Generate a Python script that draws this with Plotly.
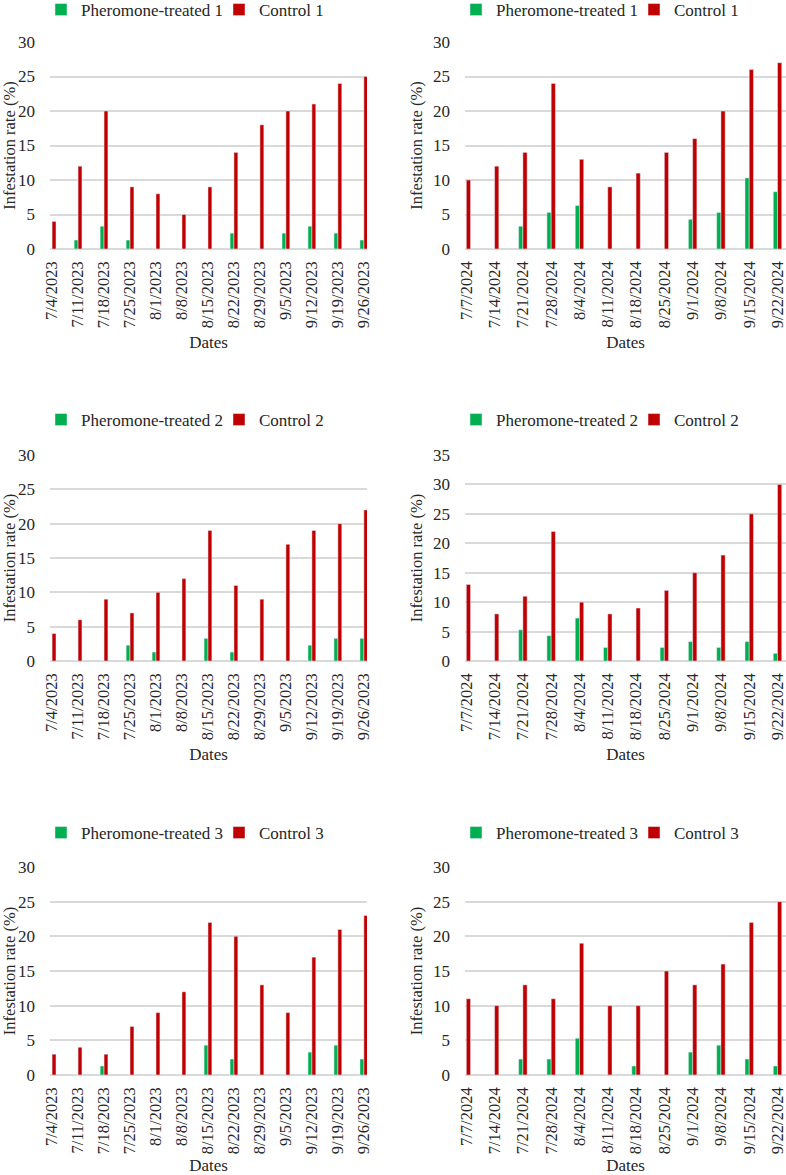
import plotly.graph_objects as go
from plotly.subplots import make_subplots

dates_2023 = ["7/4/2023", "7/11/2023", "7/18/2023", "7/25/2023", "8/1/2023", "8/8/2023",
              "8/15/2023", "8/22/2023", "8/29/2023", "9/5/2023", "9/12/2023", "9/19/2023", "9/26/2023"]
dates_2024 = ["7/7/2024", "7/14/2024", "7/21/2024", "7/28/2024", "8/4/2024", "8/11/2024",
              "8/18/2024", "8/25/2024", "9/1/2024", "9/8/2024", "9/15/2024", "9/22/2024"]

# 2023 panels
treated1_2023 = [0, 1.3, 3.3, 1.3, 0, 0, 0, 2.3, 0, 2.3, 3.3, 2.3, 1.3]
control1_2023 = [4, 12, 20, 9, 8, 5, 9, 14, 18, 20, 21, 24, 25]
treated2_2023 = [0, 0, 0, 2.3, 1.3, 0, 3.3, 1.3, 0, 0, 2.3, 3.3, 3.3]
control2_2023 = [4, 6, 9, 7, 10, 12, 19, 11, 9, 17, 19, 20, 22]
treated3_2023 = [0, 0, 1.3, 0, 0, 0, 4.3, 2.3, 0, 0, 3.3, 4.3, 2.3]
control3_2023 = [3, 4, 3, 7, 9, 12, 22, 20, 13, 9, 17, 21, 23]

# 2024 panels
treated1_2024 = [0, 0, 3.3, 5.3, 6.3, 0, 0, 0, 4.3, 5.3, 10.3, 8.3]
control1_2024 = [10, 12, 14, 24, 13, 9, 11, 14, 16, 20, 26, 27]
treated2_2024 = [0, 0, 5.3, 4.3, 7.3, 2.3, 0, 2.3, 3.3, 2.3, 3.3, 1.3]
control2_2024 = [13, 8, 11, 22, 10, 8, 9, 12, 15, 18, 25, 30]
treated3_2024 = [0, 0, 2.3, 2.3, 5.3, 0, 1.3, 0, 3.3, 4.3, 2.3, 1.3]
control3_2024 = [11, 10, 13, 11, 19, 10, 10, 15, 13, 16, 22, 25]

GREEN = "#00B050"
RED = "#C00000"
FONT = "Liberation Serif"
TXT = "#262626"
GRID = "#D9D9D9"

W, H = 786, 1175

panels = [
    (1, 1, dates_2023, treated1_2023, control1_2023, 1, 30),
    (1, 2, dates_2024, treated1_2024, control1_2024, 1, 30),
    (2, 1, dates_2023, treated2_2023, control2_2023, 2, 30),
    (2, 2, dates_2024, treated2_2024, control2_2024, 2, 35),
    (3, 1, dates_2023, treated3_2023, control3_2023, 3, 30),
    (3, 2, dates_2024, treated3_2024, control3_2024, 3, 30),
]

row_px = {1: (42, 249), 2: (455, 661), 3: (867, 1075)}
col_px = {1: (50, 367), 2: (465, 786)}
xr = {1: [-0.08, 12.12], 2: [-0.046, 11.30]}
legend_y_px = {1: 10, 2: 420, 3: 833}
legend_x_px = {1: 41, 2: 456}

fig = make_subplots(rows=3, cols=2)

for k, (r, c, d, t, ctl, idx, ymax) in enumerate(panels):
    lg = "legend" if k == 0 else f"legend{k+1}"
    fig.add_trace(go.Bar(x=d, y=t, name=f"Pheromone-treated {idx}", marker_color=GREEN,
                         legend=lg), row=r, col=c)
    fig.add_trace(go.Bar(x=d, y=ctl, name=f"Control {idx}", marker_color=RED,
                         legend=lg), row=r, col=c)
    top, bot = row_px[r]
    left, right = col_px[c]
    fig.update_xaxes(domain=[left / W, right / W], range=xr[c], tickangle=-90,
                     showgrid=False, ticks="", ticklabelstandoff=8, automargin=False,
                     tickfont=dict(family=FONT, size=16.5, color=TXT),
                     title=dict(text="Dates", font=dict(family=FONT, size=17, color=TXT), standoff=8),
                     row=r, col=c)
    fig.update_yaxes(domain=[1 - bot / H, 1 - top / H], range=[0, ymax], dtick=5,
                     showgrid=True, gridcolor=GRID, gridwidth=1.5, automargin=False,
                     zeroline=True, zerolinecolor=GRID, zerolinewidth=1.5,
                     ticks="", ticklabelstandoff=14,
                     tickfont=dict(family=FONT, size=17, color=TXT),
                     title=dict(text="Infestation rate (%)", font=dict(family=FONT, size=16.5, color=TXT), standoff=6),
                     row=r, col=c)
    fig.update_layout({lg: dict(orientation="h", x=legend_x_px[c] / W, xanchor="left",
                                y=1 - legend_y_px[r] / H, yanchor="middle",
                                font=dict(family=FONT, size=17, color=TXT),
                                entrywidth=133, entrywidthmode="pixels",
                                bgcolor="rgba(0,0,0,0)", borderwidth=0,
                                tracegroupgap=0)})

fig.update_layout(width=W, height=H,
                  margin=dict(l=0, r=0, t=0, b=0, autoexpand=False),
                  plot_bgcolor="white", paper_bgcolor="white",
                  barmode="group", bargap=0.7, bargroupgap=0,
                  font=dict(family=FONT, color=TXT))

fig.write_html("out.html")
